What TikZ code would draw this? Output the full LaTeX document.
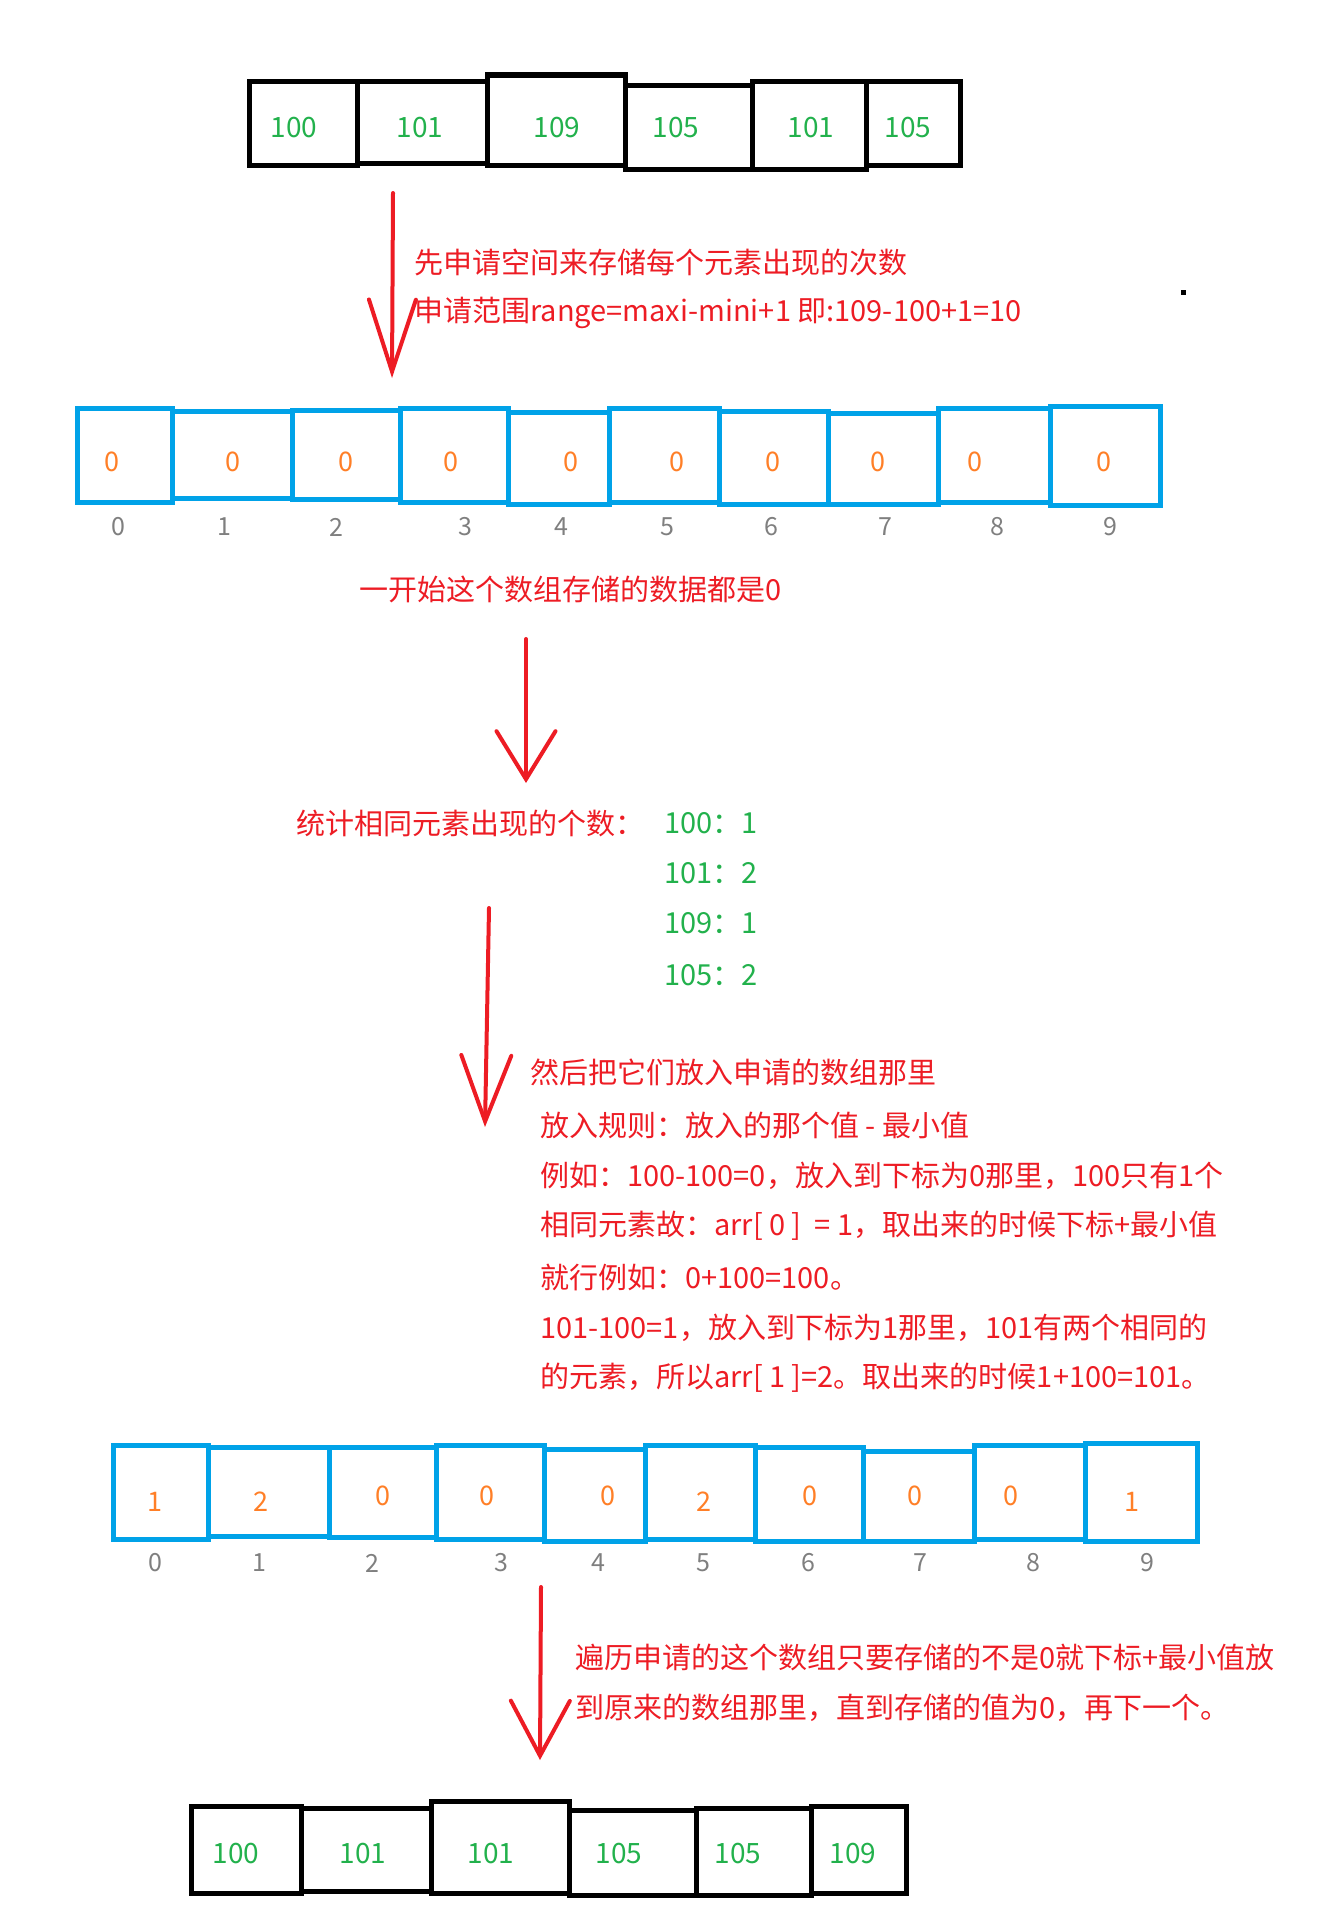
\documentclass[tikz,border=0pt]{standalone}
\usepackage{fontspec}
\setmainfont{Noto Sans CJK SC}
\usetikzlibrary{arrows.meta,fit}

\definecolor{numgreen}{RGB}{34,177,76}
\definecolor{notered}{RGB}{237,28,36}
\definecolor{countorange}{RGB}{255,127,39}
\definecolor{cellblue}{RGB}{0,162,232}
\definecolor{idxgray}{RGB}{127,127,127}

\tikzset{
  blackcell/.style={draw=black, line width=5pt, inner sep=0pt},
  bluecell/.style={draw=cellblue, line width=5pt, inner sep=0pt},
  numtext/.style={text=numgreen, font=\fontsize{28}{34}\selectfont, inner sep=0pt},
  counttext/.style={text=countorange, font=\fontsize{27}{32}\selectfont, inner sep=0pt},
  idxtext/.style={text=idxgray, font=\fontsize{25}{30}\selectfont, inner sep=0pt},
  notetext/.style={text=notered, font=\fontsize{29}{35}\selectfont, anchor=west, inner sep=0pt},
  listtext/.style={text=numgreen, font=\fontsize{29}{35}\selectfont, anchor=west, inner sep=0pt},
  redarrow/.style 2 args={draw=notered, line width=4pt, line cap=round,
    -{Straight Barb[length=#1, width=#2, line cap=round]}},
}

\begin{document}
\begin{tikzpicture}[x=1pt, y=-1pt]
    \useasboundingbox (0,0) rectangle (1323,1911);

    % Original array
    \foreach \xa/\xb/\ya/\yb/\vx/\v [count=\i] in {249/357/81/165/294/100, 357/487/81/163/420/101,
        487/625/75/165/557/109, 625/752/85/169/676/105, 752/866/81/169/811/101, 866/960/81/165/908/105}
    {
        \node[blackcell, fit={(\xa,\ya) (\xb,\yb)}] (top\i) {};
        \node[numtext] (topv\i) at (\vx,128) {\v};
    }

    % Step 1
    \coordinate (a1s) at (393,193);
    \coordinate (a1e) at (392,378);
    \draw[redarrow={72pt}{47pt}] (a1s) -- (a1e);
    \node[notetext] (apply1) at (414,262) {先申请空间来存储每个元素出现的次数};
    \node[notetext] (apply2) at (414,313) {申请范围range=maxi-mini+1 即:109-100+1=10};
    \node[fill=black, minimum size=5pt, inner sep=0pt] (dot) at (1183,292) {};

    % Count array, all zero
    \foreach \xa/\xb/\ya/\yb/\vx/\ix [count=\i from 0] in {77/172/408/502/112/118, 172/292/411/498/233/224,
        292/400/410/499/346/336, 400/508/408/502/451/465, 508/609/412/504/571/561, 609/719/408/502/677/667,
        719/828/411/504/773/771, 828/938/413/504/878/885, 938/1050/408/502/975/997, 1050/1160/406/505/1104/1110}
    {
        \node[bluecell, fit={(\xa,\ya) (\xb,\yb)}] (zero\i) {};
        \node[counttext] (zerov\i) at (\vx,462) {0};
        \node[idxtext] (zeroi\i) at (\ix,527) {\i};
    }
    \node[notetext] (init) at (359,589) {一开始这个数组存储的数据都是0};

    % Step 2
    \coordinate (a2s) at (526,639);
    \coordinate (a2e) at (526,783);
    \draw[redarrow={48pt}{59pt}] (a2s) -- (a2e);
    \node[notetext] (tally) at (296,823) {统计相同元素出现的个数：};
    \node[listtext] (tally100) at (664,823) {100：1};
    \node[listtext] (tally101) at (664,873) {101：2};
    \node[listtext] (tally109) at (664,923) {109：1};
    \node[listtext] (tally105) at (664,975) {105：2};

    % Step 3
    \coordinate (a3s) at (489,908);
    \coordinate (a3e) at (485,1127);
    \draw[redarrow={66pt}{50pt}] (a3s) -- (a3e);
    \node[notetext] (put1) at (530,1072) {然后把它们放入申请的数组那里};
    \node[notetext] (put2) at (540,1125) {放入规则：放入的那个值 - 最小值};
    \node[notetext] (put3) at (540,1176) {例如：100-100=0，放入到下标为0那里，100只有1个};
    \node[notetext] (put4) at (540,1226) {相同元素故：arr[ 0 ]~~= 1，取出来的时候下标+最小值};
    \node[notetext] (put5) at (540,1277) {就行例如：0+100=100。};
    \node[notetext] (put6) at (540,1328) {101-100=1，放入到下标为1那里，101有两个相同的};
    \node[notetext] (put7) at (540,1378) {的元素，所以arr[ 1 ]=2。取出来的时候1+100=101。};

    % Count array, filled
    \foreach \xa/\xb/\ya/\yb/\vx/\vy/\v/\ix [count=\i from 0] in {113/208/1445/1539/155/1502/1/155,
        208/329/1447/1536/261/1502/2/259, 329/436/1447/1537/383/1496/0/372, 436/544/1445/1539/487/1496/0/501,
        544/645/1449/1541/608/1496/0/598, 645/755/1445/1539/704/1502/2/703, 755/863/1447/1541/810/1496/0/808,
        863/974/1451/1541/915/1496/0/920, 974/1085/1445/1539/1011/1496/0/1033, 1085/1197/1443/1541/1132/1502/1/1147}
    {
        \node[bluecell, fit={(\xa,\ya) (\xb,\yb)}] (cnt\i) {};
        \node[counttext] (cntv\i) at (\vx,\vy) {\v};
        \node[idxtext] (cnti\i) at (\ix,1563) {\i};
    }

    % Step 4
    \coordinate (a4s) at (541,1587);
    \coordinate (a4e) at (540,1760);
    \draw[redarrow={55pt}{59pt}] (a4s) -- (a4e);
    \node[notetext] (walk1) at (575,1657) {遍历申请的这个数组只要存储的不是0就下标+最小值放};
    \node[notetext] (walk2) at (575,1708) {到原来的数组那里，直到存储的值为0，再下一个。};

    % Sorted array
    \foreach \xa/\xb/\ya/\yb/\vx/\v [count=\i] in {191/301/1806/1893/236/100, 301/431/1808/1891/363/101,
        431/569/1801/1893/491/101, 569/696/1810/1895/619/105, 696/811/1808/1895/738/105, 811/906/1806/1893/853/109}
    {
        \node[blackcell, fit={(\xa,\ya) (\xb,\yb)}] (end\i) {};
        \node[numtext] (endv\i) at (\vx,1853) {\v};
    }
\end{tikzpicture}
\end{document}
